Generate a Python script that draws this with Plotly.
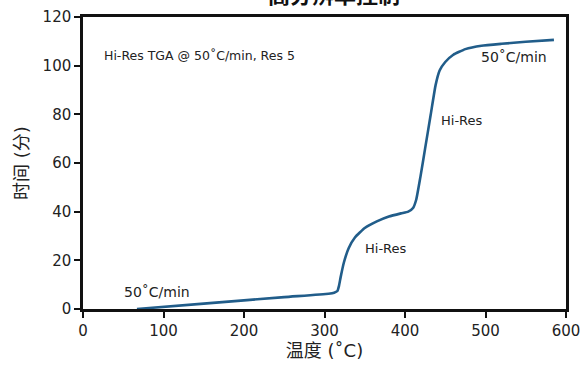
import plotly.graph_objects as go

temperature = [67, 150, 250, 305, 312, 316, 318, 320, 324, 330, 338, 350, 365, 380, 395, 404, 410, 414, 419, 425, 432, 438, 443, 450, 460, 475, 495, 520, 550, 585]
time_min = [0, 2.2, 4.9, 6.3, 6.7, 7.4, 9.5, 13, 19, 25, 29.5, 33.3, 36, 38, 39.3, 40, 41.5, 45, 54, 66, 80, 92, 98, 101.5, 104.5, 106.8, 108.2, 109, 109.8, 110.6]

x_ticks = [0, 100, 200, 300, 400, 500, 600]
y_ticks = [0, 20, 40, 60, 80, 100, 120]

FONT = "DejaVu Sans, Noto Sans CJK SC, sans-serif"
CJK = "Noto Sans CJK SC, sans-serif"

fig = go.Figure()
fig.add_trace(go.Scatter(x=temperature, y=time_min, mode="lines",
                         line=dict(color="#215d8a", width=2.6, shape="spline", smoothing=0.4),
                         showlegend=False, hoverinfo="skip"))

annots = [
    dict(x=24, y=104, text="Hi-Res TGA @ 50˚C/min, Res 5", size=12.5),
    dict(x=492, y=103.5, text="50˚C/min", size=14),
    dict(x=442, y=77.5, text="Hi-Res", size=13),
    dict(x=348, y=25, text="Hi-Res", size=13),
    dict(x=49, y=7, text="50˚C/min", size=14),
]
for a in annots:
    fig.add_annotation(x=a["x"], y=a["y"], text=a["text"], xanchor="left", yanchor="middle",
                       showarrow=False, font=dict(family=FONT, size=a["size"], color="#222"))

fig.add_annotation(x=0.52, y=1.02, xref="paper", yref="paper", text="<b>高分辨率控制</b>",
                   showarrow=False, xanchor="center", yanchor="bottom",
                   font=dict(family=CJK, size=22, color="#111"))

axis_common = dict(showline=True, linecolor="#111", linewidth=2.5, mirror=True,
                   ticks="outside", ticklen=6, tickwidth=2, tickcolor="#111",
                   showgrid=False, zeroline=False, automargin=False,
                   tickfont=dict(family=FONT, size=15, color="#222"))

fig.update_xaxes(range=[0, 600], tickvals=x_ticks,
                 title=dict(text="温度 (˚C)", font=dict(family=FONT, size=18, color="#222"), standoff=0),
                 **axis_common)
fig.update_yaxes(range=[0, 120], tickvals=y_ticks,
                 title=dict(text="时间 (分)", font=dict(family=FONT, size=18, color="#222"), standoff=10),
                 **axis_common)

fig.update_layout(width=588, height=366, margin=dict(l=83, r=22, t=17, b=57),
                  plot_bgcolor="white", paper_bgcolor="white")

fig.write_html("out.html", config={"displayModeBar": False},
               post_script="document.body.style.margin='0';")
